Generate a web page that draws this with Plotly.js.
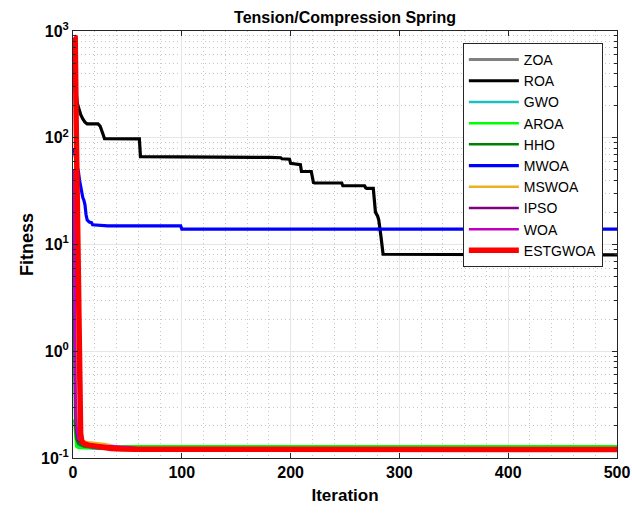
<!DOCTYPE html>
<html><head><meta charset="utf-8">
<script src="https://cdn.plot.ly/plotly-3.0.1.min.js"></script>
<style>html,body{margin:0;padding:0;background:#fff}#chart{width:632px;height:514px}</style>
</head><body><div id="chart"></div>
<script>
// ---- data (iteration, best fitness) ----
const zoaIter   = [1, 2, 3, 4, 6, 10, 20, 40, 80, 500];
const zoaFit    = [40, 0.5, 0.17, 0.145, 0.135, 0.13, 0.125, 0.122, 0.1205, 0.1203];

const roaIter   = [1, 2, 3, 4, 5, 7, 9, 11, 13, 23, 25, 27, 28, 29, 61, 62, 180, 181, 191, 192, 199, 200, 209, 210, 219, 220, 221, 222, 247, 248, 268, 269, 270, 276, 277, 278, 280, 281, 283, 285, 500];
const roaFit    = [600, 350, 260, 210, 190, 165, 150, 140, 135, 135, 128, 115, 105, 98, 97.5, 66.5, 66.5, 65.5, 65, 63.5, 63, 57.5, 56, 48.3, 48.3, 40, 38, 37.7, 37.7, 35.5, 35.5, 34, 33.5, 33.5, 26, 20, 18.4, 17, 12, 8.1, 8.0];

const gwoIter   = [1, 2, 3, 5, 10, 20, 50, 500];
const gwoFit    = [8, 0.25, 0.15, 0.13, 0.125, 0.122, 0.1205, 0.1203];

const aroaIter  = [1, 2, 3, 5, 12, 20, 35, 50, 500];
const aroaFit   = [0.23, 0.15, 0.128, 0.124, 0.1235, 0.126, 0.128, 0.129, 0.129];

const hhoIter   = [1, 2, 3, 5, 10, 25, 60, 500];
const hhoFit    = [3, 0.2, 0.15, 0.135, 0.128, 0.123, 0.121, 0.1205];

const mwoaIter  = [1, 2, 3, 4, 5, 6, 7, 8, 9, 10, 11, 12, 13, 15, 17, 18, 30, 32, 99, 100, 500];
const mwoaFit   = [80, 65, 58, 53, 48, 40, 34, 30, 27.5, 26, 23.5, 19, 17, 16.2, 16, 15.3, 15.2, 14.95, 14.95, 13.95, 13.95];

const mswoaIter = [1, 2, 3, 4, 6, 8, 12, 20, 29, 40, 55, 80, 500];
const mswoaFit  = [15, 0.8, 0.25, 0.18, 0.155, 0.146, 0.141, 0.138, 0.135, 0.128, 0.123, 0.121, 0.1205];

const ipsoIter  = [1, 2, 3, 5, 8, 15, 28, 45, 57, 70, 500];
const ipsoFit   = [25, 0.4, 0.18, 0.145, 0.138, 0.133, 0.129, 0.127, 0.124, 0.121, 0.1205];

const woaIter   = [1, 2, 3, 5, 10, 20, 40, 53, 60, 500];
const woaFit    = [50, 0.6, 0.2, 0.15, 0.136, 0.131, 0.128, 0.126, 0.122, 0.1205];

const estIter   = [1, 2, 3, 4, 5, 6, 7, 8, 10, 14, 20, 26, 35, 45, 57, 500];
const estFit    = [885, 870, 120, 15, 1.8, 0.25, 0.17, 0.145, 0.136, 0.132, 0.129, 0.126, 0.123, 0.1215, 0.1205, 0.1203];

const seriesNames = ["ZOA", "ROA", "GWO", "AROA", "HHO", "MWOA", "MSWOA", "IPSO", "WOA", "ESTGWOA"];
const xTickVals = [0, 100, 200, 300, 400, 500];
const yTickVals = [0.1, 1, 10, 100, 1000];
const yTickText = ["10<sup>-1</sup>", "10<sup>0</sup>", "10<sup>1</sup>", "10<sup>2</sup>", "10<sup>3</sup>"];

// ---- styling ----
const seriesX = [zoaIter, roaIter, gwoIter, aroaIter, hhoIter, mwoaIter, mswoaIter, ipsoIter, woaIter, estIter];
const seriesY = [zoaFit, roaFit, gwoFit, aroaFit, hhoFit, mwoaFit, mswoaFit, ipsoFit, woaFit, estFit];
const colors = ["#808080", "#000000", "#1FBFBF", "#00FF00", "#008000", "#0000FF", "#EDB120", "#800080", "#C000C0", "#FF0000"];
const widths = [3, 3.2, 2.5, 2.5, 2.5, 3.2, 2.5, 2.5, 2.5, 5.5];

const FONT = "Liberation Sans, Arial, Helvetica, sans-serif";

const traces = seriesNames.map((n, i) => ({
  x: seriesX[i], y: seriesY[i], name: n, type: "scatter", mode: "lines",
  line: {color: colors[i], width: widths[i]}
}));

const layout = {
  width: 632, height: 514,
  margin: {l: 73, r: 15, t: 31, b: 56},
  paper_bgcolor: "#fff", plot_bgcolor: "#fff",
  font: {family: FONT, color: "#000"},
  title: {text: "Tension/Compression Spring", font: {size: 16, weight: "bold", family: FONT, color: "#000"},
          x: 0.546, xanchor: "center", y: 0.967, yanchor: "middle"},
  showlegend: true,
  legend: {x: 0.974, xanchor: "right", y: 0.972, yanchor: "top",
           bgcolor: "#fff", bordercolor: "#262626", borderwidth: 1,
           font: {size: 14, family: FONT, color: "#000"}, itemwidth: 50, tracegroupgap: 0},
  xaxis: {
    type: "linear", range: [0, 500], tickvals: xTickVals, ticktext: xTickVals.map(String),
    ticks: "inside", ticklen: 5, tickcolor: "#262626",
    showline: true, linecolor: "#262626", linewidth: 1, mirror: "ticks",
    showgrid: true, gridcolor: "#e6e6e6", gridwidth: 1, zeroline: false,
    tickfont: {size: 16, weight: "bold", family: FONT, color: "#000"},
    minor: {dtick: 20, showgrid: true, gridcolor: "#c8c8c8", griddash: "1px,3px", gridwidth: 1, ticks: ""},
    title: {text: "Iteration", font: {size: 17, weight: "bold", family: FONT, color: "#000"}, standoff: 8}
  },
  yaxis: {
    type: "log", range: [-1, 3], tickvals: yTickVals, ticktext: yTickText,
    ticks: "inside", ticklen: 5, tickcolor: "#262626",
    showline: true, linecolor: "#262626", linewidth: 1, mirror: "ticks",
    showgrid: true, gridcolor: "#e6e6e6", gridwidth: 1, zeroline: false,
    tickfont: {size: 16, weight: "bold", family: FONT, color: "#000"},
    minor: {dtick: "D1", showgrid: true, gridcolor: "#c8c8c8", griddash: "1px,3px", gridwidth: 1, ticks: "inside", ticklen: 3, tickcolor: "#262626"},
    title: {text: "Fitness", font: {size: 18, weight: "bold", family: FONT, color: "#000"}, standoff: 2}
  }
};

Plotly.newPlot("chart", traces, layout, {displayModeBar: false, staticPlot: true});
</script>
</body></html>
